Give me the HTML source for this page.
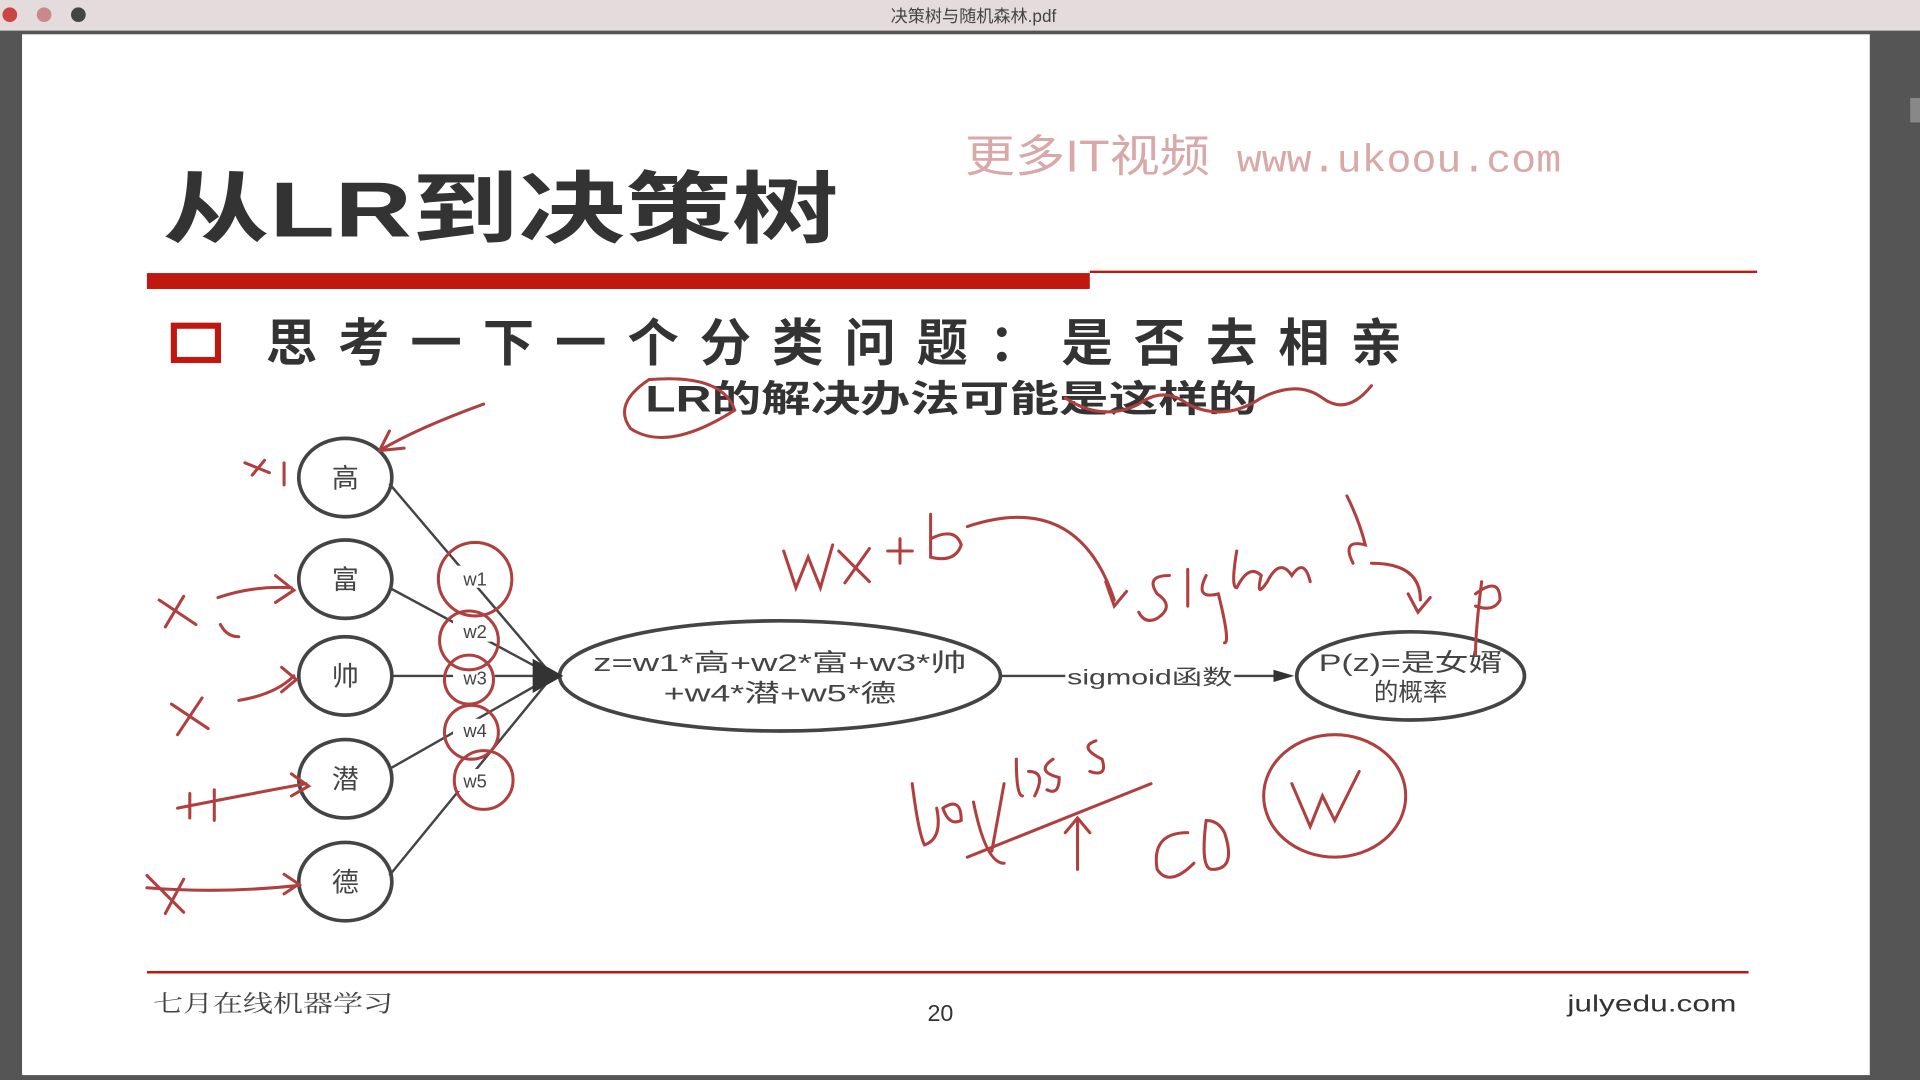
<!DOCTYPE html>
<html><head><meta charset="utf-8"><style>
html,body{margin:0;padding:0;background:#555;}
svg{display:block}
</style></head><body>
<svg width="1920" height="1080" viewBox="0 0 1568 882" xmlns="http://www.w3.org/2000/svg" font-family="Liberation Sans, Noto Sans CJK SC, sans-serif">
<rect x="0" y="0" width="1568" height="882" fill="#555"/>
<rect x="0" y="0" width="1568" height="25" fill="#e4dcdc"/>
<circle cx="8" cy="12" r="6" fill="#c44"/><circle cx="36" cy="12" r="6" fill="#c88"/><circle cx="64" cy="12" r="6" fill="#444"/>
<text x="795" y="18" font-size="14" fill="#444" text-anchor="middle" font-family="Liberation Sans, Noto Sans CJK SC, sans-serif">决策树与随机森林.pdf</text>
<rect x="18" y="28" width="1509" height="850" fill="#fff"/>
<text x="788" y="140" font-size="36" fill="#d9a8a8" textLength="200" lengthAdjust="spacingAndGlyphs" font-family="Liberation Sans, Noto Sans CJK SC, sans-serif">更多IT视频</text>
<text x="1010" y="140" font-size="32" fill="#d9a8a8" textLength="265" lengthAdjust="spacingAndGlyphs" font-family="Liberation Mono, monospace">www.ukoou.com</text>
<text x="133" y="193" font-size="64" font-weight="bold" fill="#333" textLength="552" lengthAdjust="spacingAndGlyphs" font-family="Liberation Sans, Noto Sans CJK SC, sans-serif">从LR到决策树</text>
<rect x="120" y="223" width="770" height="13" fill="#c0180f"/>
<line x1="890" y1="222" x2="1435" y2="222" stroke="#c0180f" stroke-width="2"/>
<rect x="142" y="266" width="36" height="28" fill="none" stroke="#c0180f" stroke-width="5"/>
<text x="217" y="295" font-size="42" font-weight="bold" fill="#333" textLength="928" lengthAdjust="spacing" font-family="Noto Sans CJK SC, sans-serif">思考一下一个分类问题：是否去相亲</text>
<text x="527" y="336" font-size="30" font-weight="bold" fill="#333" textLength="500" lengthAdjust="spacingAndGlyphs" font-family="Liberation Sans, Noto Sans CJK SC, sans-serif">LR的解决办法可能是这样的</text>
<g fill="none" stroke="#444" stroke-width="3">
<ellipse cx="282" cy="390" rx="38" ry="32"/>
<ellipse cx="282" cy="473" rx="38" ry="32"/>
<ellipse cx="282" cy="552" rx="38" ry="32"/>
<ellipse cx="282" cy="636" rx="38" ry="32"/>
<ellipse cx="282" cy="720" rx="38" ry="32"/>
<ellipse cx="637" cy="552" rx="180" ry="45"/>
<ellipse cx="1152" cy="552" rx="93" ry="36"/>
</g>
<g stroke="#444" stroke-width="2">
<line x1="318" y1="395" x2="448" y2="548"/>
<line x1="318" y1="480" x2="448" y2="550"/>
<line x1="320" y1="552" x2="448" y2="552"/>
<line x1="318" y1="628" x2="448" y2="554"/>
<line x1="318" y1="715" x2="448" y2="556"/>
<line x1="817" y1="552" x2="870" y2="552"/>
<line x1="1008" y1="552" x2="1045" y2="552"/>
</g>
<polygon points="435,538 460,552 435,566" fill="#333"/>
<polygon points="1040,547 1057,552 1040,557" fill="#333"/>
<g font-size="22" fill="#444" text-anchor="middle" font-family="Noto Sans CJK SC, sans-serif">
<text x="282" y="398">高</text><text x="282" y="481">富</text><text x="282" y="560">帅</text><text x="282" y="644">潜</text><text x="282" y="728">德</text>
</g>
<g font-size="15" fill="#444" text-anchor="middle"><rect x="370" y="462" width="34" height="18" fill="#fff"/><text x="388" y="478">w1</text>
<rect x="370" y="506" width="34" height="18" fill="#fff"/><text x="388" y="521">w2</text>
<rect x="370" y="544" width="34" height="18" fill="#fff"/><text x="388" y="559">w3</text>
<rect x="370" y="587" width="34" height="18" fill="#fff"/><text x="388" y="602">w4</text>
<rect x="370" y="628" width="34" height="18" fill="#fff"/><text x="388" y="643">w5</text></g>
<g font-size="20" fill="#444" text-anchor="middle" font-family="Liberation Sans, Noto Sans CJK SC, sans-serif">
<text x="637" y="548" textLength="305" lengthAdjust="spacingAndGlyphs">z=w1*高+w2*富+w3*帅</text><text x="637" y="573" textLength="190" lengthAdjust="spacingAndGlyphs">+w4*潜+w5*德</text>
<text x="1152" y="548" textLength="150" lengthAdjust="spacingAndGlyphs">P(z)=是女婿</text><text x="1152" y="572">的概率</text>
<text x="939" y="559" font-size="17" textLength="135" lengthAdjust="spacingAndGlyphs">sigmoid函数</text>
</g>
<g fill="none" stroke="#b04040" stroke-width="2.5" stroke-linecap="round">
<circle cx="388" cy="473" r="30"/><circle cx="383" cy="523" r="24"/><circle cx="383" cy="555" r="20"/><circle cx="385" cy="598" r="22"/><circle cx="395" cy="637" r="24"/>
<path d="M395 330 Q340 350 310 368 M310 368 l20 -2 M310 368 l8 -16"/>
<path d="M200 378 l20 8 M216 376 l-10 12 M232 378 v18"/>
<path d="M178 488 q30 -10 60 -8 M225 470 l15 12 -15 10 M130 490 l30 20 M150 487 l-15 25 M180 510 q5 10 15 10"/>
<path d="M195 572 q30 -5 45 -20 M230 545 l12 10 -12 10 M140 575 l30 20 M165 570 l-20 30"/>
<path d="M145 660 q50 -10 105 -20 M238 632 l14 10 -14 8 M155 648 v20 M175 645 v25"/>
<path d="M120 725 q60 5 125 -2 M232 714 l12 8 -12 8 M120 715 l30 30 M150 718 l-15 28"/>
<path d="M530 310 q-30 20 -15 40 q30 20 85 -15 q-10 -30 -70 -25"/>
<path d="M870 325 q30 20 60 5 q20 -15 40 0 q30 15 60 -5 q30 -15 50 0 q20 15 40 -10"/>
<path d="M640 450 l10 30 10 -25 10 25 10 -35 M685 450 l25 25 M710 448 l-20 28 M725 450 h20 M735 440 v20 M760 420 v35 q20 5 25 -10 q-5 -15 -25 -5"/>
<path d="M790 430 q90 -30 120 60 M903 475 l7 20 10 -12"/>
<path d="M955 470 q-20 0 -10 15 q15 10 0 20 q-10 5 -15 -5 M970 465 v30 M985 470 q-10 20 10 15 q10 40 5 40 M1010 450 q-5 30 0 30 q10 -20 20 -10 q-5 20 5 5 q10 -20 20 -5 q10 -15 15 5 M1100 405 q10 20 15 40 q-20 -5 -10 15"/>
<path d="M1120 460 q40 0 40 30 M1150 485 l8 15 10 -12 M1210 475 q-5 40 -5 60 M1205 485 q20 -15 20 5 q-5 10 -20 5"/>
<path d="M745 640 q5 40 10 50 q15 -5 10 -30 M770 660 q15 -10 15 10 q-10 5 -15 -10 M795 655 q10 50 25 50 M820 640 l-10 55 M830 620 q0 30 5 30 M840 630 q15 0 5 20 M860 620 q-15 10 5 15 q0 15 -10 10 M895 605 q-15 5 5 15 q5 15 -10 10"/>
<path d="M790 700 l150 -60 M880 670 v40 M870 680 l10 -12 10 12"/>
<path d="M970 680 q-30 0 -25 30 q10 15 30 -5 M985 670 q-5 40 5 40 q20 0 10 -30 q-5 -10 -15 -10"/>
<ellipse cx="1090" cy="650" rx="58" ry="50"/>
<path d="M1055 640 l15 35 10 -25 10 20 20 -40"/>
</g>
<line x1="120" y1="794" x2="1428" y2="794" stroke="#c0180f" stroke-width="2"/>
<text x="125" y="826" font-size="19" fill="#444" textLength="196" lengthAdjust="spacingAndGlyphs" font-family="Noto Serif CJK SC, serif">七月在线机器学习</text>
<text x="768" y="834" font-size="19" fill="#333" text-anchor="middle">20</text>
<text x="1418" y="826" font-size="19" fill="#333" text-anchor="end" textLength="138" lengthAdjust="spacingAndGlyphs">julyedu.com</text>
<rect x="1560" y="80" width="8" height="20" fill="#888"/>
</svg>
</body></html>
